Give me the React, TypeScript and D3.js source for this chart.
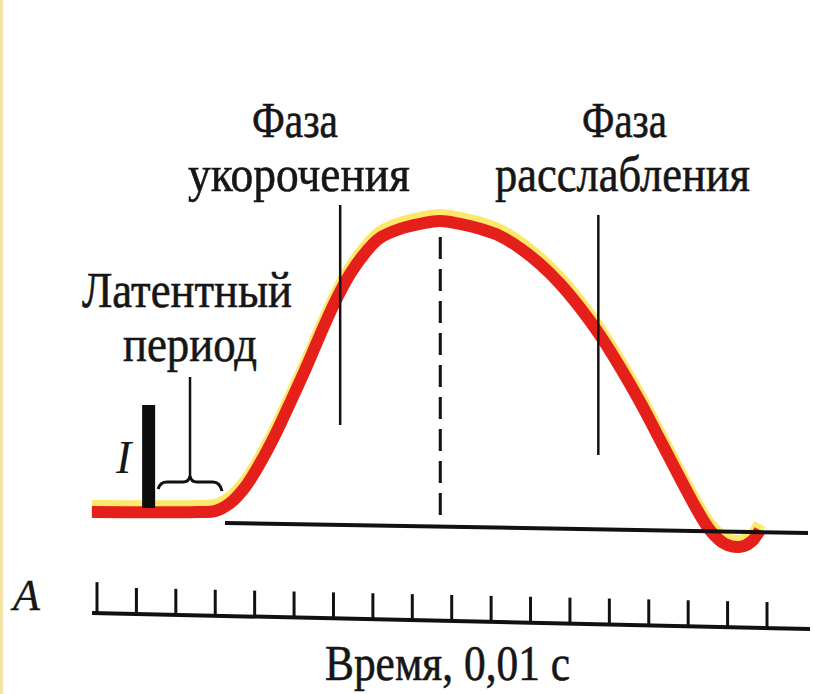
import React from "react";
import * as d3 from "d3";

const W = 813;
const H = 694;

// время в единицах 0,01 с и амплитуда сокращения (0..1 — от покоя до пика)
const times = [
  -0.13, 2.61, 2.99, 3.38, 3.76, 4.14, 4.52, 4.9, 5.28, 5.66, 6.04, 6.42, 6.8,
  7.18, 7.69, 8.2, 8.7, 9.21, 9.72, 10.23, 10.73, 11.24, 11.75, 12.26, 12.76,
  13.27, 13.78, 14.29, 14.79, 15.17, 15.55, 15.94, 16.32, 16.62, 16.82,
];
const amps = [
  0, 0, 0.003, 0.031, 0.086, 0.168, 0.265, 0.375, 0.488, 0.608, 0.722, 0.818,
  0.89, 0.942, 0.973, 0.99, 1.0, 0.99, 0.973, 0.948, 0.907, 0.852, 0.784,
  0.701, 0.608, 0.498, 0.378, 0.247, 0.117, 0.021, -0.062, -0.11, -0.12, -0.1,
  -0.062,
];

// отметки времени на линии A
const tickTimes = d3.range(0, 18);

// моменты на графике
const stimulusT = 1.31;
const latentStart = 1.55;
const latentEnd = 3.17;
const shortT = 6.17;
const peakT = 8.71;
const relaxT = 12.72;

const font = "'Liberation Serif', 'DejaVu Serif', serif";

export default function App() {
  const x = d3.scaleLinear().domain([0, 17]).range([97, 767]);
  const y = d3.scaleLinear().domain([0, 1]).range([512, 221]);

  const pts = times.map((t, i) => [t, amps[i]] as [number, number]);
  const line = d3
    .line<[number, number]>()
    .x((d) => x(d[0]))
    .y((d) => y(d[1]))
    .curve(d3.curveCatmullRom.alpha(0.5));
  const path = line(pts) || "";

  // нулевая линия под кривой (слегка наклонена, как на скане)
  const baseY = (px: number) => 523 + ((px - 225) * 10) / 585;
  // линия отметчика времени
  const axisY = (px: number) => 613 + ((px - 92) * 16) / 718;

  const bx0 = x(latentStart);
  const bx1 = x(latentEnd);
  const bm = (bx0 + bx1) / 2;
  const by = 482;
  const brace = `M${bx0},${by + 7} Q${bx0 + 2},${by} ${bx0 + 9},${by} L${bm - 7},${by} Q${bm - 1},${by} ${bm},${by - 6} Q${bm + 1},${by} ${bm + 7},${by} L${bx1 - 9},${by} Q${bx1 - 2},${by} ${bx1},${by + 9}`;

  const txt = {
    fontFamily: font,
    fontSize: 51,
    fill: "#161616",
    stroke: "#161616",
    strokeWidth: 0.6,
  } as React.CSSProperties;

  return (
    <svg
      width={W}
      height={H}
      style={{ position: "absolute", left: 0, top: 0, background: "#fff" }}
    >
      <rect x={0} y={0} width={3} height={H} fill="#f5e3a8" />

      {/* кривая сокращения: жёлтый ореол и красная линия */}
      <path
        d={path}
        fill="none"
        stroke="#fde55a"
        strokeWidth={12}
        opacity={0.9}
        transform="translate(0,-6)"
      />
      <path d={path} fill="none" stroke="#e5201b" strokeWidth={12} />

      {/* нулевая линия */}
      <line
        x1={225}
        y1={baseY(225)}
        x2={808}
        y2={baseY(808)}
        stroke="#111"
        strokeWidth={4}
      />

      {/* пунктир пика */}
      <line
        x1={x(peakT)}
        y1={237}
        x2={x(peakT)}
        y2={baseY(x(peakT))}
        stroke="#111"
        strokeWidth={3}
        strokeDasharray="22 10"
      />
      {/* выноски фаз */}
      <line x1={x(shortT)} y1={205} x2={x(shortT)} y2={425} stroke="#111" strokeWidth={2.5} />
      <line x1={x(relaxT)} y1={215} x2={x(relaxT)} y2={455} stroke="#111" strokeWidth={2.5} />

      {/* отметка раздражения */}
      <rect x={x(stimulusT) - 6.5} y={405} width={13} height={103} fill="#0d0d0d" />
      <text x={116} y={473} style={{ ...txt, fontSize: 46, fontStyle: "italic", strokeWidth: 0 }}>
        I
      </text>

      {/* скобка латентного периода */}
      <path d={brace} fill="none" stroke="#111" strokeWidth={3} />
      <line x1={bm} y1={by - 6} x2={bm} y2={377} stroke="#111" strokeWidth={2.5} />

      {/* подписи */}
      <text x={252} y={137} textLength={86} lengthAdjust="spacingAndGlyphs" style={txt}>
        Фаза
      </text>
      <text x={188} y={191} textLength={222} lengthAdjust="spacingAndGlyphs" style={txt}>
        укорочения
      </text>
      <text x={582} y={137} textLength={85} lengthAdjust="spacingAndGlyphs" style={txt}>
        Фаза
      </text>
      <text x={495} y={191} textLength={255} lengthAdjust="spacingAndGlyphs" style={txt}>
        расслабления
      </text>
      <text x={82} y={307} textLength={210} lengthAdjust="spacingAndGlyphs" style={txt}>
        Латентный
      </text>
      <text x={123} y={361} textLength={134} lengthAdjust="spacingAndGlyphs" style={txt}>
        период
      </text>

      {/* отметчик времени */}
      <text x={13} y={610} style={{ ...txt, fontSize: 44, fontStyle: "italic", strokeWidth: 0.3 }}>
        A
      </text>
      <line x1={92} y1={axisY(92)} x2={810} y2={axisY(810)} stroke="#111" strokeWidth={4} />
      {tickTimes.map((t) => {
        const px = x(t);
        const len = t === 0 ? 31 : 26;
        return (
          <line
            key={t}
            x1={px}
            y1={axisY(px)}
            x2={px}
            y2={axisY(px) - len}
            stroke="#111"
            strokeWidth={3}
          />
        );
      })}
      <text x={325} y={680} textLength={245} lengthAdjust="spacingAndGlyphs" style={txt}>
        Время, 0,01 с
      </text>
    </svg>
  );
}
